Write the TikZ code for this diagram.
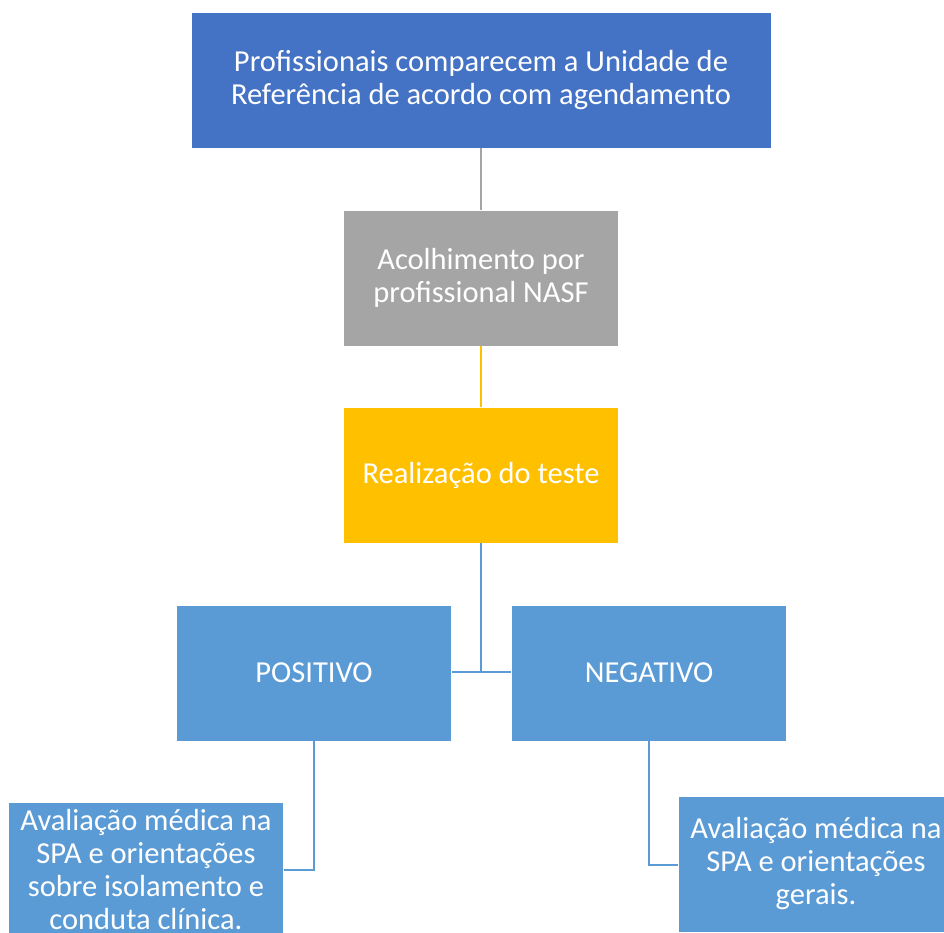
\documentclass[tikz,border=0pt]{standalone}
\usepackage{fontspec}
\setmainfont{Carlito}
\definecolor{cTop}{HTML}{4472C4}
\definecolor{cGray}{HTML}{A5A5A5}
\definecolor{cYel}{HTML}{FFC000}
\definecolor{cBlue}{HTML}{5B9BD5}
\begin{document}
\begin{tikzpicture}[x=1pt,y=-1pt,
  box/.style={draw=white, line width=0.8pt, text=white, minimum height=136pt, inner sep=0pt, align=center,
    font=\fontsize{30.5}{33}\selectfont},
  link/.style={line width=2pt}]
\useasboundingbox (0,0) rectangle (944,932);
\clip (0,0) rectangle (944,932);
\node[box, fill=cTop, minimum width=580pt] (top) at (481,80) {Profissionais comparecem a Unidade de\\Referência de acordo com agendamento};
\node[box, fill=cGray, minimum width=275pt] (acol) at (481,278) {Acolhimento por\\profissional NASF};
\node[box, fill=cYel, minimum width=275pt] (teste) at (481,475) {Realização do teste};
\node[box, fill=cBlue, minimum width=275pt] (pos) at (314,673) {POSITIVO};
\node[box, fill=cBlue, minimum width=275pt] (neg) at (649,673) {NEGATIVO};
\node[box, fill=cBlue, minimum width=275pt] (avpos) at (146,870) {Avaliação médica na\\SPA e orientações\\sobre isolamento e\\conduta clínica.};
\node[box, fill=cBlue, minimum width=275pt] (avneg) at (816,864) {Avaliação médica na\\SPA e orientações\\gerais.};
\draw[link, cGray] (top.south) -- (acol.north);
\draw[link, cYel] (acol.south) -- (teste.north);
\draw[link, cBlue] (teste.south) -- (481,672) coordinate (j);
\draw[link, cBlue] (pos.east |- j) -- (neg.west |- j);
\draw[link, cBlue] (pos.south) |- (avpos.east |- 0,870);
\draw[link, cBlue] (neg.south) |- (avneg.west |- 0,865);
\end{tikzpicture}
\end{document}
